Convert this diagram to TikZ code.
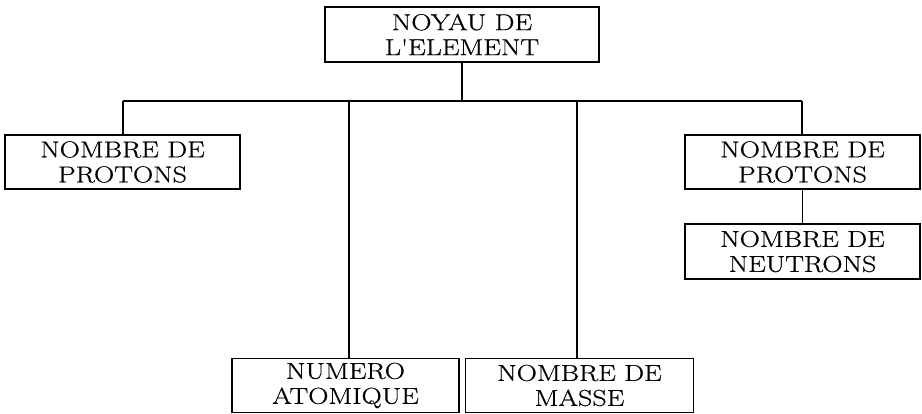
\documentclass[tikz,border=0pt]{standalone}
\usepackage{fontspec}
\setmainfont{Latin Modern Roman}[FakeStretch=1.22,FakeBold=0.6,Ligatures=TeXOff]
\begin{document}
\begin{tikzpicture}[x=1pt,y=-1pt,
  box/.style={draw,line width=1.8pt,align=center,inner sep=0pt,
    font=\fontsize{23}{25}\selectfont},
  link/.style={line width=1.6pt}]
\useasboundingbox (0,0) rectangle (922,414);
\node[box,minimum width=274pt,minimum height=55pt] (top) at (462,34.5) {NOYAU DE\\L'ELEMENT};
\node[box,minimum width=235pt,minimum height=54pt] (left) at (122.5,162) {NOMBRE DE\\PROTONS};
\node[box,minimum width=235pt,minimum height=54pt] (rp) at (802.5,162) {NOMBRE DE\\PROTONS};
\node[box,minimum width=235pt,minimum height=55pt] (rn) at (802.5,251.5) {NOMBRE DE\\NEUTRONS};
\node[box,minimum width=227pt,minimum height=54pt] (ba) at (345.5,385.5) {NUMERO\\ATOMIQUE};
\node[box,minimum width=228pt,minimum height=54pt] (bm) at (579.5,385.5) {NOMBRE DE\\MASSE};
\coordinate (busl) at (123,101);
\coordinate (busr) at (802,101);
\coordinate (bus1) at (349,101);
\coordinate (bus2) at (577,101);
\draw[link] (top.south) -- (top.south |- busl);
\draw[link] (busl) -- (busr);
\draw[link] (busl) -- (busl |- left.north);
\draw[link] (busr) -- (busr |- rp.north);
\draw[link] (bus1) -- (bus1 |- ba.north);
\draw[link] (bus2) -- (bus2 |- bm.north);
\draw[link] (rp.south) -- (rn.north);
\end{tikzpicture}
\end{document}
